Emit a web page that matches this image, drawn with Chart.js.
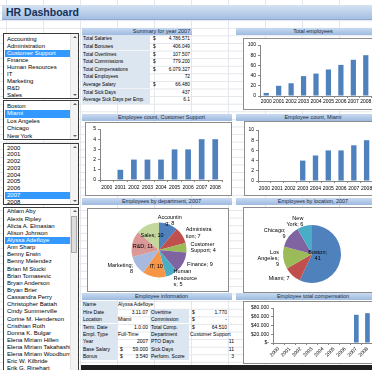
<!DOCTYPE html>
<html lang="en">
  <head>
    <meta charset="UTF-8" />
    <title>HR Dashboard</title>
    <script src="https://cdn.jsdelivr.net/npm/chart.js"></script>
    <style>
      body {
        margin: 0;
        width: 372px;
        height: 370px;
        overflow: hidden;
        position: relative;
        font-family: "Liberation Sans", Arial, sans-serif;
        color: #000;
        background-color: #fff;
        background-image: linear-gradient(to right, #e3e6ea 1px, transparent 1px),
          linear-gradient(to bottom, #e3e6ea 1px, transparent 1px);
        background-size: 37px 7.6px;
        background-position: 6px 5px;
      }
      .abs { position: absolute; box-sizing: border-box; white-space: nowrap; }
      .title {
        left: 2px; top: 5px; width: 372px; height: 15px;
        background: linear-gradient(#d5e2f2, #a4bfe2);
        border-bottom: 1px solid #8eaad4;
        font-weight: bold; font-size: 10.5px; line-height: 15px;
        color: #17305a; padding-left: 4px;
      }
      .band {
        height: 7px;
        background: linear-gradient(#c8daf0, #9dbadf);
        font-size: 5.5px; line-height: 7px; color: #1b2a44;
        text-align: center;
      }
      .list { left: 3px; width: 76px; background: #fff; border: 1px solid #3a3a3a; overflow: hidden; font-size: 6px; }
      .item { left: 1px; right: 8px; padding-left: 2px; }
      .sel { background: #3399ff; color: #fff; }
      .sb { position: absolute; right: 0; top: 0; bottom: 0; width: 7px; background: #f3f3f3; border-left: 1px solid #e2e2e2; }
      .up, .dn { position: absolute; left: 1.5px; width: 0; height: 0; border-left: 2px solid transparent; border-right: 2px solid transparent; }
      .up { top: 2px; border-bottom: 2px solid #606060; }
      .dn { bottom: 2px; border-top: 2px solid #606060; }
      .thumb { position: absolute; left: 0; width: 6px; background: #dcdcdc; border: 1px solid #a9a9a9; box-sizing: border-box; }
      .box { background: #fff; border: 1px solid #8c8c8c; }
      .lbl { background: #dce6f1; }
      .t { font-size: 4.8px; }
      .t5 { font-size: 5px; }
      canvas { position: absolute; }
    </style>
  </head>
  <body>
    <div class="abs title">HR Dashboard</div>

    <div class="abs list" id="deptList" style="top: 33px; height: 66px"></div>
    <div class="abs list" id="locList" style="top: 100px; height: 40px"></div>
    <div class="abs list" id="yearList" style="top: 143px; height: 62px"></div>
    <div class="abs list" id="nameList" style="top: 207px; height: 170px"></div>

    <div class="abs band" style="left: 82px; top: 28px; width: 110px; padding-left: 49px">Summary for year 2007</div>
    <div id="summary"></div>

    <div class="abs band" style="left: 236px; top: 28px; width: 154px">Total employees</div>
    <div class="abs box" style="left: 243px; top: 38px; width: 140px; height: 72px"></div>
    <canvas id="totalChart" width="136" height="70" style="left: 244px; top: 39px"></canvas>

    <div class="abs band" style="left: 82px; top: 114px; width: 150px; padding-left: 9px">Employee count, Customer Support</div>
    <div class="abs box" style="left: 85px; top: 122px; width: 147px; height: 74px"></div>
    <canvas id="deptChart" width="145" height="72" style="left: 86px; top: 123px"></canvas>

    <div class="abs band" style="left: 236px; top: 114px; width: 154px">Employee count, Miami</div>
    <div class="abs box" style="left: 244px; top: 121px; width: 140px; height: 75px"></div>
    <canvas id="locChart" width="135" height="73" style="left: 245px; top: 122px"></canvas>

    <div class="abs band" style="left: 82px; top: 198px; width: 150px; padding-left: 9px">Employees by department, 2007</div>
    <div class="abs box" style="left: 87px; top: 208px; width: 142px; height: 84px"></div>
    <canvas id="deptPie" width="140" height="82" style="left: 88px; top: 209px"></canvas>

    <div class="abs band" style="left: 236px; top: 198px; width: 154px">Employees by location, 2007</div>
    <div class="abs box" style="left: 243px; top: 207px; width: 140px; height: 86px"></div>
    <canvas id="locPie" width="136" height="84" style="left: 244px; top: 208px"></canvas>

    <div class="abs band" style="left: 82px; top: 293px; width: 150px; padding-left: 9px">Employee information</div>
    <div id="info"></div>

    <div class="abs band" style="left: 236px; top: 293px; width: 154px">Employee total compensation</div>
    <div class="abs box" style="left: 243px; top: 301px; width: 140px; height: 63px"></div>
    <canvas id="compChart" width="136" height="61" style="left: 244px; top: 302px"></canvas>

    <div class="abs" style="left: 81px; top: 365px; width: 300px; height: 5px; background: #1e1e1e"></div>

    <script>
      // list boxes
      const departments = ["Accounting", "Administration", "Customer Support", "Finance", "Human Resources", "IT", "Marketing", "R&D", "Sales"];
      const locations = ["Boston", "Miami", "Los Angeles", "Chicago", "New York"];
      const years = ["2000", "2001", "2002", "2003", "2004", "2005", "2006", "2007", "2008"];
      const employees = ["Ahlam Aby", "Alexis Ripley", "Alicia A. Elmasian", "Alison Johnson", "Alyssa Adefloye", "Ann Sharp", "Benny Erwin", "Benny Melendez", "Brian M Stucki", "Brian Tomasevic", "Bryan Anderson", "Bryan Brier", "Cassandra Perry", "Christopher Battah", "Cindy Summerville", "Corine M. Henderson", "Cristhian Roth", "Donna K. Bulgar", "Elena Miriam Hillen", "Elena Miriam Takahashi", "Elena Miriam Woodburn", "Eric W. Kilbride", "Erik G. Rinehart"];

      // summary for 2007
      const summaryLabels = ["Total Salaries", "Total Bonuses", "Total Overtimes", "Total Commissions", "Total Compensations", "Total Employees", "Average Salary", "Total Sick Days", "Average Sick Days per Emp."];
      const summaryValues = ["$ 4.786.571", "$ 406.049", "$ 107.507", "$ 779.200", "$ 6.079.327", "72", "$ 66.480", "437", "6.1"];

      // employee information
      const infoLabels1 = ["Name", "Hire Date", "Location", "Term. Date", "Empl. Type", "Year", "Base Salary", "Bonus"];
      const infoValues1 = ["Alyssa Adefloye", "3.11.07", "Miami", "1.0.00", "Full-Time", "2007", "$ 59.000", "$ 3.540"];
      const infoLabels2 = ["", "Overtime", "Commission", "Total Comp.", "Department", "PTO Days", "Sick Days", "Perform. Score"];
      const infoValues2 = ["", "$ 1.770", "$ -", "$ 64.510", "Customer Support", "11", "11", "3"];

      // chart series
      const totalEmployees = [6, 20, 25, 39, 44, 52, 61, 71, 80];
      const supportCount = [0, 1, 2, 2, 2, 3, 3, 4, 4];
      const miamiCount = [0, 0, 0, 4, 5, 6, 6, 7, 8];
      const deptCounts2007 = [8, 7, 4, 9, 5, 10, 8, 11, 10];
      const locCounts2007 = [41, 7, 9, 9, 6];
      const compensation = [0, 0, 0, 0, 0, 0, 0, 64510, 68200];

      const deptColors = ["#4F81BD", "#C0504D", "#9BBB59", "#8064A2", "#4BACC6", "#F79646", "#A7B9DE", "#DA9896", "#C4D79D"];
      const locColors = ["#4F81BD", "#C0504D", "#9BBB59", "#8064A2", "#4BACC6"];

      function el(parent, cls, style, text) {
        const d = document.createElement("div");
        d.className = cls;
        d.style.cssText = style;
        if (text !== undefined) d.textContent = text;
        parent.appendChild(d);
        return d;
      }

      function fillList(id, items, selected, firstTop, pitch, thumb) {
        const box = document.getElementById(id);
        items.forEach((name, i) => {
          el(box, "abs item" + (name === selected ? " sel" : ""),
            `top:${firstTop + i * pitch}px;height:${pitch}px;line-height:${pitch}px`, name);
        });
        const sb = el(box, "sb", "");
        el(sb, "up", "");
        el(sb, "dn", "");
        if (thumb) el(sb, "thumb", `top:${thumb[0]}px;height:${thumb[1]}px`);
      }

      fillList("deptList", departments, "Customer Support", 1.5, 7, null);
      fillList("locList", locations, "Miami", 2, 7.4, null);
      fillList("yearList", years, "2007", 0.6, 6.75, null);
      fillList("nameList", employees, "Alyssa Adefloye", 0.4, 7.14, [8, 37]);

      // value cell: "$ 123" -> dollar left, number right; plain numbers right; text left
      function valueCell(parent, x, w, y, h, v, cls) {
        const lh = `height:${h}px;line-height:${h}px;top:${y}px;`;
        if (v.startsWith("$ ")) {
          el(parent, "abs " + cls, lh + `left:${x + 3}px`, "$");
          el(parent, "abs " + cls, lh + `left:${x}px;width:${w}px;text-align:right;padding-right:2px`, v.slice(2));
        } else if (/^[\d.,-]+$/.test(v)) {
          el(parent, "abs " + cls, lh + `left:${x}px;width:${w}px;text-align:right;padding-right:2px`, v);
        } else {
          el(parent, "abs " + cls, lh + `left:${x}px;padding-left:1px`, v);
        }
      }

      const summary = document.getElementById("summary");
      summaryLabels.forEach((lab, i) => {
        const y = 35.3 + i * 7.6;
        el(summary, "abs lbl t", `left:82px;width:68px;top:${y}px;height:7.6px;line-height:7.6px;padding-left:1px`, lab);
        valueCell(summary, 150, 42, y, 7.6, summaryValues[i], "t");
      });

      const info = document.getElementById("info");
      infoLabels1.forEach((lab, i) => {
        const y = 301.3 + i * 7.4;
        el(info, "abs lbl t5", `left:82px;width:35px;top:${y}px;height:7.4px;line-height:7.4px;padding-left:1px`, lab);
        valueCell(info, 117, 33, y, 7.4, infoValues1[i], "t5");
        if (infoLabels2[i]) {
          el(info, "abs lbl t5", `left:150px;width:39px;top:${y}px;height:7.4px;line-height:7.4px;padding-left:1px`, infoLabels2[i]);
          valueCell(info, 189, infoValues2[i].startsWith("$ ") ? 40 : 47, y, 7.4, infoValues2[i], "t5");
        }
      });

      Chart.defaults.font.family = "'Liberation Sans', Arial, sans-serif";
      Chart.defaults.font.size = 5;
      Chart.defaults.color = "#000";
      Chart.defaults.animation = false;

      function barChart(id, values, yMax, yStep, g, fmt, rotate) {
        return new Chart(document.getElementById(id), {
          type: "bar",
          data: {
            labels: years,
            datasets: [
              {
                data: values,
                backgroundColor: "#4F81BD",
                barPercentage: 0.42,
                categoryPercentage: 1,
              },
            ],
          },
          options: {
            responsive: false,
            layout: { padding: { top: g.top, right: g.right, left: 0, bottom: 0 } },
            plugins: { legend: { display: false }, tooltip: { enabled: false } },
            scales: {
              x: {
                grid: { drawOnChartArea: false, tickLength: 2, color: "#868686" },
                border: { color: "#868686" },
                ticks: { autoSkip: false, maxRotation: rotate, minRotation: rotate, padding: g.xpad },
                afterFit: (s) => { s.height = g.xh; },
              },
              y: {
                min: 0,
                max: yMax,
                ticks: { stepSize: yStep, autoSkip: false, padding: 2, callback: fmt },
                grid: { drawOnChartArea: false, tickLength: 2, color: "#868686" },
                border: { color: "#868686" },
                afterFit: (s) => { s.width = g.yw; },
              },
            },
          },
        });
      }

      const plain = (v) => v;
      const dollars = (v) => (v === 0 ? "$-" : "$" + v.toLocaleString("de-DE"));

      barChart("totalChart", totalEmployees, 100, 20, { top: 6, right: 8, yw: 16, xh: 13, xpad: 1 }, plain, 0);
      barChart("deptChart", supportCount, 5, 1, { top: 6, right: 9, yw: 14, xh: 15, xpad: 3 }, plain, 0);
      barChart("locChart", miamiCount, 10, 2, { top: 8, right: 7, yw: 13, xh: 14, xpad: 3 }, plain, 0);
      barChart("compChart", compensation, 80000, 20000, { top: 6, right: 7, yw: 29, xh: 20, xpad: 1 }, dollars, 45);

      function wrapLabel(ctx, name, value, maxW) {
        const words = name.split(" ");
        words[words.length - 1] += ";";
        words.push(String(value));
        const lines = [];
        let line = "";
        words.forEach((w) => {
          const test = line ? line + " " + w : w;
          if (ctx.measureText(test).width <= maxW) {
            line = test;
            return;
          }
          if (line) lines.push(line);
          let chunk = "";
          for (const ch of w) {
            if (chunk && ctx.measureText(chunk + ch).width > maxW) {
              lines.push(chunk);
              chunk = ch;
            } else chunk += ch;
          }
          line = chunk;
        });
        if (line) lines.push(line);
        return lines;
      }

      const pieLabels = {
        id: "pieLabels",
        afterDatasetsDraw(chart, args, opts) {
          const ctx = chart.ctx;
          const meta = chart.getDatasetMeta(0);
          const names = chart.data.labels;
          const vals = chart.data.datasets[0].data;
          ctx.save();
          ctx.font = "5.5px 'Liberation Sans', Arial, sans-serif";
          ctx.fillStyle = "#000";
          ctx.textBaseline = "middle";
          meta.data.forEach((arc, i) => {
            const p = arc.getProps(["x", "y", "startAngle", "endAngle", "outerRadius"], true);
            const mid = (p.startAngle + p.endAngle) / 2;
            const inside = opts.inside[i];
            const r = p.outerRadius * (inside ? opts.inR : opts.outR);
            const c = Math.cos(mid);
            const x = p.x + c * r;
            const y = p.y + Math.sin(mid) * r;
            const lines = wrapLabel(ctx, names[i], vals[i], opts.maxWidth);
            ctx.textAlign = inside ? "center" : c > 0.4 ? "left" : c < -0.2 ? "right" : "center";
            lines.forEach((ln, k) => ctx.fillText(ln, x, y + (k - (lines.length - 1) / 2) * 6.3));
          });
          ctx.restore();
        },
      };

      function pieChart(id, names, values, colors, pad, labelOpts) {
        return new Chart(document.getElementById(id), {
          type: "pie",
          data: {
            labels: names,
            datasets: [{ data: values, backgroundColor: colors, borderWidth: 0 }],
          },
          options: {
            responsive: false,
            layout: { padding: pad },
            plugins: { legend: { display: false }, tooltip: { enabled: false }, pieLabels: labelOpts },
          },
          plugins: [pieLabels],
        });
      }

      pieChart("deptPie", departments, deptCounts2007, deptColors,
        { left: 43.5, right: 41.5, top: 13.5, bottom: 13.5 },
        { inside: [false, false, false, false, false, true, false, true, true], inR: 0.6, outR: 1.15, maxWidth: 26 });
      pieChart("locPie", locations, locCounts2007, locColors,
        { left: 39, right: 39, top: 17, bottom: 9 },
        { inside: [true, false, false, false, false], inR: 0.2, outR: 1.15, maxWidth: 24 });
    </script>
  </body>
</html>
